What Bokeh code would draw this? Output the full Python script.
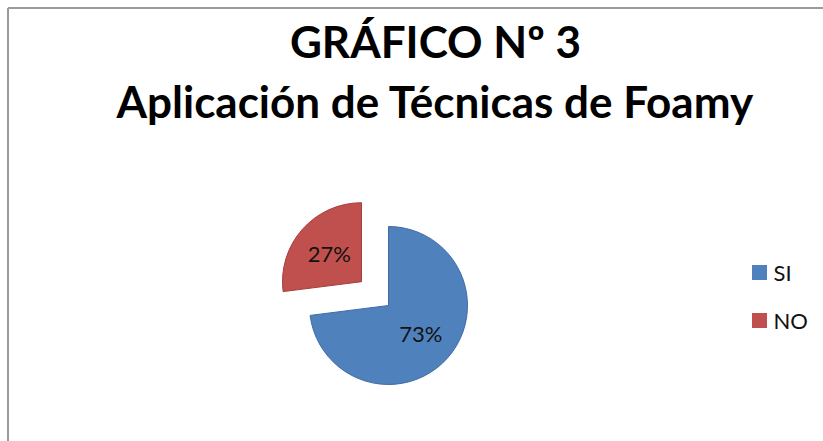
import math
from bokeh.plotting import figure
from bokeh.models import Range1d, ColumnDataSource
from bokeh.core.properties import value
from bokeh.embed import file_html
from bokeh.resources import INLINE

# ---- data ----
title_lines = ["GRÁFICO Nº 3", "Aplicación de Técnicas de Foamy"]
categories = ["SI", "NO"]
values = [73, 27]
colors = ["#4F81BD", "#C0504D"]
edge_colors = ["#3E6CA3", "#A43E3B"]
explode = [0, 36]

# ---- layout ----
W, H = 823, 441
cx, cy, R = 388, 136, 79
label_r = 43

p = figure(width=W, height=H, output_backend="svg", toolbar_location=None,
           x_range=Range1d(0, W), y_range=Range1d(0, H), min_border=0)
p.axis.visible = False
p.grid.visible = False
p.outline_line_color = None
p.background_fill_color = "white"

# frame lines (left and top)
p.segment(x0=[7.5, 7.5], y0=[0, H - 7.5], x1=[7.5, W], y1=[H - 7.5, H - 7.5],
          line_color="#9a9a9a", line_width=2)

total = sum(values)
xs, ys, starts, ends, lx, ly, texts = [], [], [], [], [], [], []
cum = 0
for v, e in zip(values, explode):
    a0 = math.pi / 2 - 2 * math.pi * cum / total
    cum += v
    a1 = math.pi / 2 - 2 * math.pi * cum / total
    mid = (a0 + a1) / 2
    x = cx + e * math.cos(mid)
    y = cy + e * math.sin(mid)
    xs.append(x); ys.append(y); starts.append(a0); ends.append(a1)
    lx.append(x + label_r * math.cos(mid)); ly.append(y + label_r * math.sin(mid))
    texts.append(f"{round(100 * v / total)}%")

src = ColumnDataSource(dict(x=xs, y=ys, start=starts, end=ends, color=colors,
                            edge=edge_colors, lx=lx, ly=ly, text=texts, cat=categories))
p.wedge(x="x", y="y", radius=R, start_angle="start", end_angle="end", direction="clock",
        fill_color="color", line_color="edge", line_width=1, source=src)
p.text(x="lx", y="ly", text="text", source=src, text_align="center", text_baseline="middle",
       text_font=value("Lato"), text_font_size="22px", text_color="#111111")

# title
p.text(x=[435, 435], y=[401, 341], text=title_lines, text_align="center",
       text_baseline="middle", text_font=value("Lato"), text_font_style="bold",
       text_font_size="44px", text_color="black")

# legend
leg_x = [759] * len(categories)
leg_y = [169 - 48 * i for i in range(len(categories))]
p.scatter(x=leg_x, y=leg_y, marker="square", size=15, fill_color=colors, line_color=None)
p.text(x=[x + 14 for x in leg_x], y=leg_y, text=categories,
       text_align="left", text_baseline="middle", text_font=value("Lato"),
       text_font_size="22px", text_color="#111111")

open("out.html", "w").write(file_html(p, INLINE))
